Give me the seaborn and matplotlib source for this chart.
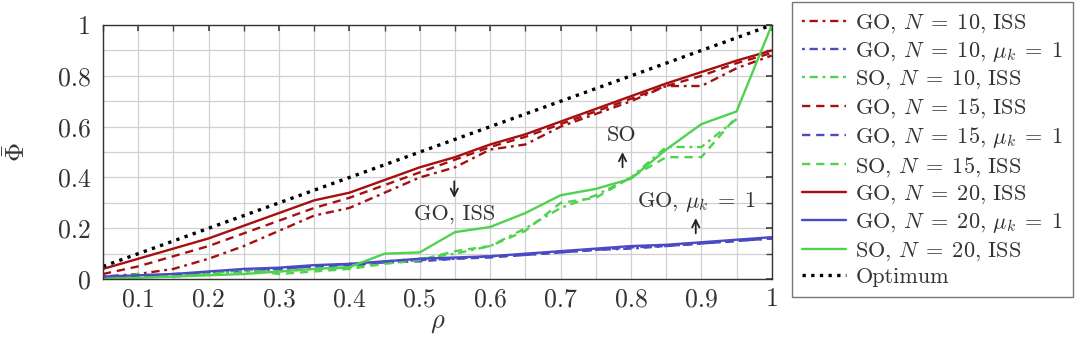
import numpy as np
import matplotlib
matplotlib.use("Agg")
import matplotlib.pyplot as plt
from matplotlib.ticker import MultipleLocator
import seaborn as sns

rho = [0.05, 0.10, 0.15, 0.20, 0.25, 0.30, 0.35, 0.40, 0.45, 0.50,
       0.55, 0.60, 0.65, 0.70, 0.75, 0.80, 0.85, 0.90, 0.95, 1.00]

go_n10_iss = [0.01, 0.02, 0.04, 0.08, 0.13, 0.19, 0.25, 0.28, 0.34, 0.40,
              0.44, 0.51, 0.53, 0.60, 0.65, 0.70, 0.76, 0.76, 0.83, 0.88]
go_n10_mu = [0.005, 0.01, 0.02, 0.025, 0.03, 0.04, 0.05, 0.06, 0.065, 0.075,
             0.08, 0.09, 0.095, 0.105, 0.115, 0.12, 0.13, 0.14, 0.15, 0.16]
so_n10_iss = [0.0, 0.01, 0.01, 0.02, 0.03, 0.03, 0.04, 0.045, 0.07, 0.08,
              0.10, 0.13, 0.20, 0.28, 0.33, 0.40, 0.52, 0.52, 0.63, np.nan]
go_n15_iss = [0.02, 0.05, 0.09, 0.13, 0.18, 0.23, 0.28, 0.32, 0.37, 0.42,
              0.47, 0.52, 0.56, 0.61, 0.66, 0.71, 0.76, 0.80, 0.85, 0.89]
go_n15_mu = [0.005, 0.01, 0.015, 0.025, 0.035, 0.04, 0.05, 0.055, 0.065, 0.07,
             0.08, 0.085, 0.095, 0.105, 0.115, 0.125, 0.13, 0.14, 0.15, 0.16]
so_n15_iss = [0.0, 0.02, 0.01, 0.02, 0.04, 0.02, 0.03, 0.04, 0.06, 0.075,
              0.11, 0.13, 0.19, 0.30, 0.32, 0.40, 0.48, 0.48, 0.64, np.nan]
go_n20_iss = [0.04, 0.08, 0.12, 0.16, 0.21, 0.26, 0.31, 0.34, 0.39, 0.44,
              0.48, 0.53, 0.57, 0.62, 0.67, 0.72, 0.77, 0.815, 0.86, 0.90]
go_n20_mu = [0.01, 0.015, 0.02, 0.03, 0.04, 0.045, 0.055, 0.06, 0.07, 0.08,
             0.085, 0.09, 0.10, 0.11, 0.12, 0.13, 0.135, 0.145, 0.155, 0.165]
so_n20_iss = [0.0, 0.005, 0.01, 0.015, 0.02, 0.03, 0.04, 0.047, 0.10, 0.105,
              0.185, 0.205, 0.26, 0.33, 0.355, 0.395, 0.51, 0.61, 0.66, 1.0]
optimum = [0.05, 0.10, 0.15, 0.20, 0.25, 0.30, 0.35, 0.40, 0.45, 0.50,
           0.55, 0.60, 0.65, 0.70, 0.75, 0.80, 0.85, 0.90, 0.95, 1.00]

x_ticks = [0.1, 0.2, 0.3, 0.4, 0.5, 0.6, 0.7, 0.8, 0.9, 1.0]
x_tick_labels = ["0.1", "0.2", "0.3", "0.4", "0.5", "0.6", "0.7", "0.8", "0.9", "1"]
y_ticks = [0, 0.2, 0.4, 0.6, 0.8, 1.0]
y_tick_labels = ["0", "0.2", "0.4", "0.6", "0.8", "1"]

sns.set_theme(style="white")
plt.rcParams["font.family"] = "serif"
plt.rcParams["font.serif"] = ["cmr10", "DejaVu Serif"]
plt.rcParams["mathtext.fontset"] = "cm"
plt.rcParams["axes.formatter.use_mathtext"] = True

RED = "#a50f0f"
BLUE = "#4a4ac4"
GREEN = "#4fd24f"
TEXT = "#333333"
DASHDOT = (0, (1.2, 2.0, 3.5, 2.0))
DASHED = (0, (3.5, 2.5))

series = [
    (go_n10_iss, RED, DASHDOT, r"GO, $N\;=\;10$, ISS"),
    (go_n10_mu, BLUE, DASHDOT, r"GO, $N\;=\;10$, $\mu_k\;=\;1$"),
    (so_n10_iss, GREEN, DASHDOT, r"SO, $N\;=\;10$, ISS"),
    (go_n15_iss, RED, DASHED, r"GO, $N\;=\;15$, ISS"),
    (go_n15_mu, BLUE, DASHED, r"GO, $N\;=\;15$, $\mu_k\;=\;1$"),
    (so_n15_iss, GREEN, DASHED, r"SO, $N\;=\;15$, ISS"),
    (go_n20_iss, RED, "-", r"GO, $N\;=\;20$, ISS"),
    (go_n20_mu, BLUE, "-", r"GO, $N\;=\;20$, $\mu_k\;=\;1$"),
    (so_n20_iss, GREEN, "-", r"SO, $N\;=\;20$, ISS"),
]

fig = plt.figure(figsize=(10.77, 3.48), dpi=100)
ax = fig.add_axes([0.0956, 0.198, 0.621, 0.730])

for vals, color, ls, label in series:
    sns.lineplot(x=rho, y=vals, ax=ax, color=color, linestyle=ls,
                 linewidth=1.7, label=label, legend=False)
sns.lineplot(x=rho, y=optimum, ax=ax, color="black", linestyle=(0, (1, 1.6)),
             linewidth=2.4, label="Optimum", legend=False)

ax.set_xlim(0.05, 1.0)
ax.set_ylim(0, 1)
ax.set_xticks(x_ticks)
ax.set_xticklabels(x_tick_labels)
ax.set_yticks(y_ticks)
ax.set_yticklabels(y_tick_labels)
ax.xaxis.set_minor_locator(MultipleLocator(0.05))
ax.yaxis.set_minor_locator(MultipleLocator(0.1))
ax.grid(which="both", color="#d0d0d0", linewidth=0.9)
ax.set_axisbelow(True)
ax.tick_params(which="both", direction="in", top=True, right=True,
               labelsize=18.5, color="#444444", length=4, labelcolor=TEXT)
ax.tick_params(axis="y", pad=9)
ax.tick_params(axis="x", pad=6)
for s in ax.spines.values():
    s.set_color("#333333")
    s.set_linewidth(1.0)

ax.set_xlabel(r"$\rho$", fontsize=19, labelpad=0, color=TEXT)
ax.set_ylabel(r"$\bar{\bar{\Phi}}$", fontsize=19, labelpad=20, color=TEXT)

arrow = dict(arrowstyle="->", color="#222222", lw=1.3, mutation_scale=13,
             shrinkA=0, shrinkB=0)
ax.text(0.549, 0.254, "GO, ISS", ha="center", va="center", fontsize=16, color=TEXT)
ax.annotate("", xy=(0.549, 0.32), xytext=(0.549, 0.385), arrowprops=arrow)
ax.text(0.787, 0.565, "SO", ha="center", va="center", fontsize=16, color=TEXT)
ax.annotate("", xy=(0.788, 0.50), xytext=(0.788, 0.44), arrowprops=arrow)
ax.text(0.892, 0.305, r"GO, $\mu_k\;=\;1$", ha="center", va="center", fontsize=16, color=TEXT)
ax.annotate("", xy=(0.892, 0.24), xytext=(0.892, 0.18), arrowprops=arrow)

handles, labels = ax.get_legend_handles_labels()
leg = fig.legend(handles, labels, loc="upper left", bbox_to_anchor=(0.7354, 0.994),
                 fontsize=16, frameon=True, fancybox=False, framealpha=1,
                 edgecolor="#777777", handlelength=2.0, labelspacing=0.22,
                 borderpad=0.45, handletextpad=0.4, borderaxespad=0)
leg.get_frame().set_linewidth(1.0)
for t in leg.get_texts():
    t.set_color(TEXT)

fig.savefig("out.png", dpi=100)
